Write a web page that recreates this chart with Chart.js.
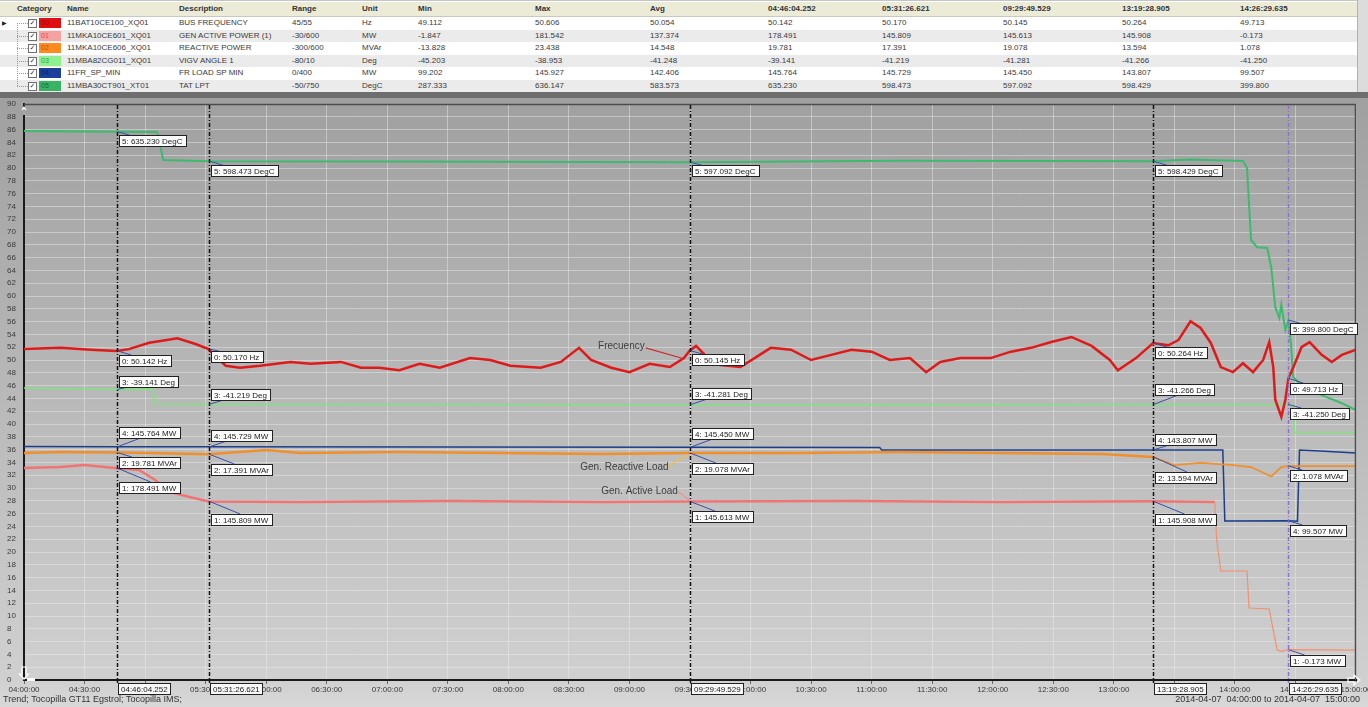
<!DOCTYPE html>
<html>
<head>
<meta charset="utf-8">
<script src="https://cdn.jsdelivr.net/npm/chart.js@4.4.1/dist/chart.umd.min.js"></script>
<style>
  html, body { margin: 0; padding: 0; width: 1368px; height: 707px; overflow: hidden; background: #dcdcdc;
               font-family: "Liberation Sans", Arial, sans-serif; }
  #grid { position: absolute; left: 0; top: 0; width: 1358px; height: 92px; background: #fff;
          border-top: 1px solid #c4c4c4; border-right: 1px solid #b0b0b0; box-sizing: border-box; }
  .row { position: absolute; left: 0; width: 1357px; }
  .cell { position: absolute; top: 0; font-size: 8px; color: #3a3a3a; white-space: nowrap; }
  .hdr .cell { font-weight: bold; color: #333; }
  #band { position: absolute; left: 0; top: 92px; width: 1368px; height: 6px; background: #6e6e6e; }
  #wrap { position: absolute; left: 0; top: 98px; width: 1368px; height: 609px; }
</style>
</head>
<body>
<div id="grid"></div>
<div id="band"></div>
<div id="wrap"><canvas id="c" width="1368" height="609"></canvas></div>
<script>
// ---- Tag list ----
const categories   = ['00', '01', '02', '03', '04', '05'];
const tagNames     = ['11BAT10CE100_XQ01', '11MKA10CE601_XQ01', '11MKA10CE606_XQ01', '11MBA82CG011_XQ01', '11FR_SP_MIN', '11MBA30CT901_XT01'];
const descriptions = ['BUS FREQUENCY', 'GEN ACTIVE POWER (1)', 'REACTIVE POWER', 'VIGV ANGLE 1', 'FR LOAD SP MIN', 'TAT LPT'];
const ranges       = ['45/55', '-30/600', '-300/600', '-80/10', '0/400', '-50/750'];
const units        = ['Hz', 'MW', 'MVAr', 'Deg', 'MW', 'DegC'];
const minValues    = [49.112, -1.847, -13.828, -45.203, 99.202, 287.333];
const maxValues    = [50.606, 181.542, 23.438, -38.953, 145.927, 636.147];
const avgValues    = [50.054, 137.374, 14.548, -41.248, 142.406, 583.573];

// ---- Cursors and readings at each cursor ----
const cursorTimes    = ['04:46:04.252', '05:31:26.621', '09:29:49.529', '13:19:28.905', '14:26:29.635'];
const freqCursor     = [50.142, 50.170, 50.145, 50.264, 49.713];
const activeCursor   = [178.491, 145.809, 145.613, 145.908, -0.173];
const reactiveCursor = [19.781, 17.391, 19.078, 13.594, 1.078];
const vigvCursor     = [-39.141, -41.219, -41.281, -41.266, -41.250];
const frCursor       = [145.764, 145.729, 145.450, 143.807, 99.507];
const tatCursor      = [635.230, 598.473, 597.092, 598.429, 399.800];

// ---- Trend samples ----
const freqTimes = ['04:00','04:18','04:33','04:52','05:02','05:10','05:16','05:25','05:35','05:40','05:47','05:57','06:12','06:22','06:37','06:47','06:56','07:06','07:16','07:26','07:41','07:51','08:01','08:16','08:26','08:35','08:41','08:51','09:00','09:10','09:20','09:27','09:33','09:38','09:45','09:55','10:02','10:10','10:20','10:30','10:40','10:50','11:00','11:09','11:19','11:27','11:34','11:44','11:59','12:09','12:19','12:29','12:39','12:49','12:58','13:02','13:11','13:27','13:32','13:38','13:43','13:48','13:53','13:59','14:04','14:09','14:14','14:17','14:19','14:20','14:23','14:25','14:29','14:33','14:37','14:43','14:48','14:53','15:00'];
const freqValues = [50.17,50.19,50.16,50.17,50.27,50.31,50.34,50.25,50.05,49.91,49.88,49.91,49.97,49.94,49.97,49.88,49.88,49.84,49.94,49.88,50.03,50.00,49.91,49.88,49.97,50.19,50.00,49.88,49.81,49.94,49.89,50.03,50.22,50.06,49.92,49.89,50.03,50.19,50.16,50.00,50.08,50.16,50.13,50.00,50.03,49.81,49.97,50.03,50.03,50.13,50.19,50.28,50.36,50.22,50.00,49.84,50.03,50.23,50.31,50.606,50.50,50.27,49.89,49.81,49.95,49.81,50.00,50.28,49.89,49.38,49.112,49.38,49.89,50.20,50.28,50.08,49.97,50.08,50.16];

const activeTimes  = ['04:00','04:18','04:30','04:57','05:05','05:12','05:22','06:17','07:31','08:46','10:50','12:04','13:50','13:51','13:53','14:06','14:07','14:17','14:19','14:21','14:23','15:00'];
const activeValues = [178.7,179.7,181.542,176.7,166.9,155.1,150.1,145.2,146.2,145.2,146.2,145.2,145.2,107.8,77.3,77.3,40.9,39.9,19.2,-0.5,-1.847,-0.5];

const reactiveTimes  = ['04:00','04:18','05:02','06:00','06:17','07:06','07:56','08:46','10:25','11:14','12:04','12:54','13:30','13:43','13:59','14:08','14:18','14:23','14:33','15:00'];
const reactiveValues = [19.2,20.6,19.2,23.438,19.2,20.6,19.2,17.8,19.2,20.6,19.2,17.8,2.3,5.2,2.3,-0.5,-13.828,-0.5,0.9,0.9];

const vigvTimes  = ['04:00','05:04','05:05','14:29','14:29:30','15:00'];
const vigvValues = [-38.953,-39.1,-41.2,-41.25,-45.203,-45.2];

const frTimes  = ['04:00','11:04','11:05','13:54','13:55','14:31','14:32','14:42','15:00'];
const frValues = [145.927,145.3,143.8,143.8,99.3,99.202,143.8,143.1,141.9];

const tatTimes  = ['04:00','05:06','05:09','07:00','11:14','13:38','14:04','14:06','14:08','14:11','14:16','14:18','14:20','14:22','14:23','14:25','14:27:50','14:28:50','14:33','14:43','14:53','15:00'];
const tatValues = [636.147,635.0,600,598.0,599.0,600.5,598.8,590,500,491,490,466,416,402.5,419,387.5,368.8,328.8,318.8,306,296,287.333];

// ---- Styling ----
const lineColors   = ['#de1a1a', '#f07474', '#f0902c', '#7fe37f', '#1d3f8a', '#3dba6e'];
const lineWidths   = [2.5, 2.5, 2.5, 1.5, 1.5, 2];
const swatchColors = ['#e01010', '#f4a2a2', '#ff8a1e', '#8ff08f', '#1b3f9a', '#36b463'];
const swatchText   = ['#b00000', '#e04848', '#c05000', '#2fa02f', '#0c2360', '#186a38'];

// Label box placement for each cursor (in % of span, series order 0..5)
const labelRows = [
  [50.0, 30.2, 34.1, 46.7, 38.75, 84.4],
  [50.6, 25.2, 33.0, 44.7, 38.3, 79.7],
  [50.2, 25.6, 33.1, 44.8, 38.6, 79.7],
  [51.25, 25.2, 31.7, 45.5, 37.7, 79.7],
  [45.6, 3.1, 32.0, 41.7, 23.4, 55.0]
];

// Free text notes with leader lines (time, % of span)
const notes = [
  { text: 'Frecuency',          at: ['08:56', 52.2],    from: ['09:08', 51.9], to: ['09:27', 50.2], color: '#cc2b2b' },
  { text: 'Gen. Reactive Load', at: ['08:57:30', 33.3], from: ['09:19', 33.4], to: ['09:29', 35.2], color: '#f2c23a' },
  { text: 'Gen. Active Load',   at: ['09:05', 29.5],    from: ['09:24', 29.4], to: ['09:30', 28.1], color: '#ee8f8f' }
];

function minutes(t) {
  const p = t.split(':');
  return (+p[0]) * 60 + (+p[1]) + (p[2] ? parseFloat(p[2]) / 60 : 0);
}
function hms(v) {
  const h = Math.floor(v / 60), m = Math.round(v % 60);
  return String(h).padStart(2, '0') + ':' + String(m).padStart(2, '0') + ':00';
}

const series = [
  { times: freqTimes,     values: freqValues,     cursor: freqCursor },
  { times: activeTimes,   values: activeValues,   cursor: activeCursor },
  { times: reactiveTimes, values: reactiveValues, cursor: reactiveCursor },
  { times: vigvTimes,     values: vigvValues,     cursor: vigvCursor },
  { times: frTimes,       values: frValues,       cursor: frCursor },
  { times: tatTimes,      values: tatValues,      cursor: tatCursor }
];

function buildPoints(s) {
  const pts = s.times.map((t, i) => ({ x: minutes(t), y: s.values[i] }));
  cursorTimes.forEach((t, i) => pts.push({ x: minutes(t), y: s.cursor[i] }));
  return pts.sort((a, b) => a.x - b.x);
}

// ---- Tag grid above the trend ----
(function buildGrid() {
  const grid = document.getElementById('grid');
  const colX = [67, 179, 292, 362, 418, 535, 650];
  const cursorColX = [768, 882, 1003, 1122, 1240];
  function cell(parent, x, text, lh) {
    const d = document.createElement('div');
    d.className = 'cell';
    d.style.left = x + 'px';
    d.style.lineHeight = lh + 'px';
    d.textContent = text;
    parent.appendChild(d);
    return d;
  }
  const hdr = document.createElement('div');
  hdr.className = 'row hdr';
  Object.assign(hdr.style, { top: '1px', height: '14px', background: '#ecebd8', borderBottom: '1px solid #c9c9c0' });
  grid.appendChild(hdr);
  cell(hdr, 17, 'Category', 14);
  ['Name', 'Description', 'Range', 'Unit', 'Min', 'Max', 'Avg'].forEach((h, i) => cell(hdr, colX[i], h, 14));
  cursorTimes.forEach((t, i) => cell(hdr, cursorColX[i], t, 14));

  const rowH = 12.6;
  const tree = document.createElement('div');
  Object.assign(tree.style, { position: 'absolute', left: '17px', top: '22px', width: '0', height: (rowH * 5) + 'px', borderLeft: '1px dotted #9a9a9a', zIndex: 2 });
  categories.forEach((c, i) => {
    const r = document.createElement('div');
    r.className = 'row';
    Object.assign(r.style, { top: (16 + i * rowH) + 'px', height: rowH + 'px', background: i % 2 ? '#ebebeb' : '#ffffff' });
    grid.appendChild(r);
    if (i === 0) {
      const a = cell(r, 2, '\u25B6', rowH);
      a.style.fontSize = '6px'; a.style.color = '#222';
    }
    const h = document.createElement('div');
    Object.assign(h.style, { position: 'absolute', left: '17px', top: '6px', width: '11px', height: '0', borderTop: '1px dotted #9a9a9a' });
    r.appendChild(h);
    const cb = document.createElement('div');
    Object.assign(cb.style, { position: 'absolute', left: '28px', top: '2px', width: '7px', height: '7px', border: '1px solid #707070', background: '#fff',
      fontFamily: '"DejaVu Sans", sans-serif', fontSize: '7px', lineHeight: '7px', textAlign: 'center', color: '#1d2f6a', fontWeight: 'bold' });
    cb.textContent = '\u2713';
    r.appendChild(cb);
    const sw = document.createElement('div');
    Object.assign(sw.style, { position: 'absolute', left: '39px', top: '1px', width: '22px', height: '10px', background: swatchColors[i],
      fontSize: '7px', lineHeight: '10px', color: swatchText[i], paddingLeft: '2px', boxSizing: 'border-box' });
    sw.textContent = c;
    r.appendChild(sw);
    const vals = [tagNames[i], descriptions[i], ranges[i], units[i], minValues[i].toFixed(3), maxValues[i].toFixed(3), avgValues[i].toFixed(3)];
    vals.forEach((v, k) => cell(r, colX[k], v, rowH));
    series[i].cursor.forEach((v, k) => cell(r, cursorColX[k], v.toFixed(3), rowH));
  });
  grid.appendChild(tree);
})();

// ---- Trend chart ----
Chart.defaults.font.family = '"Liberation Sans", Arial, sans-serif';

const scales = {
  x: {
    type: 'linear', min: 240, max: 900,
    afterFit(s) { s.height = 27; s.paddingLeft = 0; s.paddingRight = 0; },
    ticks: { stepSize: 30, autoSkip: false, maxRotation: 0, color: '#3a3a3a', font: { size: 8 }, padding: 1, callback: v => hms(v) },
    grid: { color: 'rgba(238,238,238,0.45)', tickColor: '#6a6a6a', tickLength: 4 },
    border: { color: '#1a1a1a', width: 2 }
  },
  pct: {
    type: 'linear', position: 'left', min: 0, max: 90,
    afterFit(s) { s.width = 17; s.paddingTop = 0; s.paddingBottom = 0; },
    ticks: { stepSize: 2, autoSkip: false, color: '#3a3a3a', font: { size: 8 }, crossAlign: 'far', padding: 0 },
    grid: { color: 'rgba(238,238,238,0.45)', drawTicks: false },
    border: { color: '#1a1a1a', width: 2 }
  }
};
// one hidden scale per tag, spanning the lower 90 % of its range
ranges.forEach((r, i) => {
  const [lo, hi] = r.split('/').map(Number);
  scales['y' + i] = { type: 'linear', axis: 'y', position: 'left', display: false, min: lo, max: lo + 0.9 * (hi - lo) };
});

const datasets = series.map((s, i) => {
  const ds = {
    label: descriptions[i],
    data: buildPoints(s),
    yAxisID: 'y' + i,
    borderColor: lineColors[i],
    borderWidth: lineWidths[i],
    pointRadius: 0,
    tension: 0,
    fill: false
  };
  if (i === 1) {
    ds.segment = {
      borderWidth: c => (c.p0.parsed.x >= minutes('13:50') ? 1.2 : 2.5),
      borderColor: c => (c.p0.parsed.x >= minutes('13:50') ? '#f5906e' : '#f07474')
    };
  }
  if (i === 2) {
    ds.segment = { borderWidth: c => (c.p0.parsed.x >= minutes('13:19') ? 1.8 : 2.5) };
  }
  return ds;
});

const backdrop = {
  id: 'backdrop',
  beforeDraw(chart) {
    const { ctx, width, height } = chart;
    const g = ctx.createLinearGradient(0, 0, 0, height);
    g.addColorStop(0, '#a0a0a0');
    g.addColorStop(0.955, '#d0d0d0');
    g.addColorStop(1, '#d8d8d8');
    ctx.save();
    ctx.fillStyle = g;
    ctx.fillRect(0, 0, width, height);
    ctx.restore();
  }
};

const cursorOverlay = {
  id: 'cursorOverlay',
  afterDatasetsDraw(chart) {
    const { ctx, chartArea: a, scales: s } = chart;
    ctx.save();
    // plot frame (top / right)
    ctx.strokeStyle = '#4c4c4c';
    ctx.lineWidth = 1.5;
    ctx.beginPath();
    ctx.moveTo(a.left, a.top + 0.5);
    ctx.lineTo(a.right - 0.5, a.top + 0.5);
    ctx.lineTo(a.right - 0.5, a.bottom);
    ctx.stroke();

    // notes
    ctx.font = '10px "Liberation Sans", Arial, sans-serif';
    ctx.textAlign = 'center';
    ctx.textBaseline = 'middle';
    notes.forEach(n => {
      ctx.strokeStyle = n.color;
      ctx.lineWidth = 1.2;
      ctx.beginPath();
      ctx.moveTo(s.x.getPixelForValue(minutes(n.from[0])), s.pct.getPixelForValue(n.from[1]));
      ctx.lineTo(s.x.getPixelForValue(minutes(n.to[0])), s.pct.getPixelForValue(n.to[1]));
      ctx.stroke();
      ctx.fillStyle = '#3e3e3e';
      ctx.fillText(n.text, s.x.getPixelForValue(minutes(n.at[0])), s.pct.getPixelForValue(n.at[1]));
    });

    // cursor lines
    const cx = cursorTimes.map(t => Math.round(s.x.getPixelForValue(minutes(t))) + 0.5);
    cx.forEach((x, ci) => {
      ctx.strokeStyle = ci === cx.length - 1 ? '#8d6fd8' : '#111';
      ctx.lineWidth = 1.5;
      ctx.setLineDash([4, 2, 1, 2]);
      ctx.beginPath();
      ctx.moveTo(x, a.top + 1);
      ctx.lineTo(x, a.bottom + 3);
      ctx.stroke();
    });
    ctx.setLineDash([]);

    // reading labels
    ctx.font = '8px "Liberation Sans", Arial, sans-serif';
    ctx.textAlign = 'left';
    cx.forEach((x, ci) => {
      series.forEach((ser, si) => {
        const val = ser.cursor[ci];
        const py = s['y' + si].getPixelForValue(val);
        const cy = Math.round(s.pct.getPixelForValue(labelRows[ci][si]));
        const txt = si + ': ' + val.toFixed(3) + ' ' + units[si];
        const w = Math.ceil(ctx.measureText(txt).width) + 6, h = 11;
        const bx = Math.round(x) + 1, by = cy - 5;
        let edge = null;
        if (py < by) edge = by; else if (py > by + h) edge = by + h;
        if (edge !== null) {
          const dx = Math.min(32, Math.abs(py - edge) * 2 + 4);
          ctx.strokeStyle = '#3550a8';
          ctx.lineWidth = 1;
          ctx.beginPath();
          ctx.moveTo(x, py);
          ctx.lineTo(bx + dx, edge);
          ctx.stroke();
        }
        ctx.fillStyle = '#fbfbfb';
        ctx.fillRect(bx + 0.5, by + 0.5, w, h);
        ctx.strokeStyle = '#222';
        ctx.lineWidth = 1;
        ctx.strokeRect(bx + 0.5, by + 0.5, w, h);
        ctx.fillStyle = '#1e1e1e';
        ctx.fillText(txt, bx + 3, by + 6.5);
      });
    });
    ctx.restore();
  },
  afterDraw(chart) {
    const { ctx, chartArea: a, scales: s, width } = chart;
    ctx.save();
    // cursor time tags on the time axis
    ctx.font = '8px "Liberation Sans", Arial, sans-serif';
    ctx.textBaseline = 'middle';
    ctx.textAlign = 'left';
    cursorTimes.forEach(t => {
      const x = Math.round(s.x.getPixelForValue(minutes(t))) + 1;
      const w = Math.ceil(ctx.measureText(t).width) + 5, h = 11;
      const y = a.bottom + 3;
      ctx.fillStyle = '#f7f7f7';
      ctx.fillRect(x + 0.5, y + 0.5, w, h);
      ctx.strokeStyle = '#222';
      ctx.lineWidth = 1;
      ctx.strokeRect(x + 0.5, y + 0.5, w, h);
      ctx.fillStyle = '#222';
      ctx.fillText(t, x + 3, y + 6.5);
    });

    // scroll arrows
    ctx.strokeStyle = '#ffffff';
    ctx.fillStyle = '#ffffff';
    ctx.lineWidth = 1.2;
    const lx = a.left;
    ctx.beginPath();
    ctx.moveTo(lx, a.top + 11); ctx.lineTo(lx, a.top + 3);
    ctx.moveTo(lx - 2, a.top + 6); ctx.lineTo(lx, a.top + 3); ctx.lineTo(lx + 2, a.top + 6);
    ctx.stroke();
    const by = a.bottom;
    ctx.beginPath();
    ctx.moveTo(lx - 2, by - 13); ctx.lineTo(lx + 2, by - 13); ctx.lineTo(lx + 2, by - 6);
    ctx.lineTo(lx + 4.5, by - 6); ctx.lineTo(lx, by - 1); ctx.lineTo(lx - 4.5, by - 6);
    ctx.lineTo(lx - 2, by - 6); ctx.closePath();
    ctx.stroke();
    ctx.fillRect(lx + 3, by - 2, 8, 3);
    const rx = a.right;
    ctx.beginPath();
    ctx.moveTo(rx - 8, by - 2); ctx.lineTo(rx - 2, by - 2); ctx.lineTo(rx - 2, by - 5);
    ctx.lineTo(rx + 4, by); ctx.lineTo(rx - 2, by + 5); ctx.lineTo(rx - 2, by + 2);
    ctx.lineTo(rx - 8, by + 2); ctx.closePath();
    ctx.stroke();

    // footer
    ctx.font = '9px "Liberation Sans", Arial, sans-serif';
    ctx.fillStyle = '#333';
    ctx.textAlign = 'left';
    ctx.fillText('Trend; Tocopilla GT11 Egstrol; Tocopilla IMS;', 3, 602);
    ctx.textAlign = 'right';
    ctx.fillText('2014-04-07  ' + hms(s.x.min) + ' to 2014-04-07  ' + hms(s.x.max), width - 8, 602);
    ctx.restore();
  }
};

new Chart(document.getElementById('c'), {
  type: 'line',
  data: { datasets },
  options: {
    responsive: false,
    animation: false,
    devicePixelRatio: 1,
    layout: { padding: { left: 7, top: 6, right: 12, bottom: 0 } },
    plugins: { legend: { display: false }, tooltip: { enabled: false } },
    scales
  },
  plugins: [backdrop, cursorOverlay]
});
</script>
</body>
</html>
